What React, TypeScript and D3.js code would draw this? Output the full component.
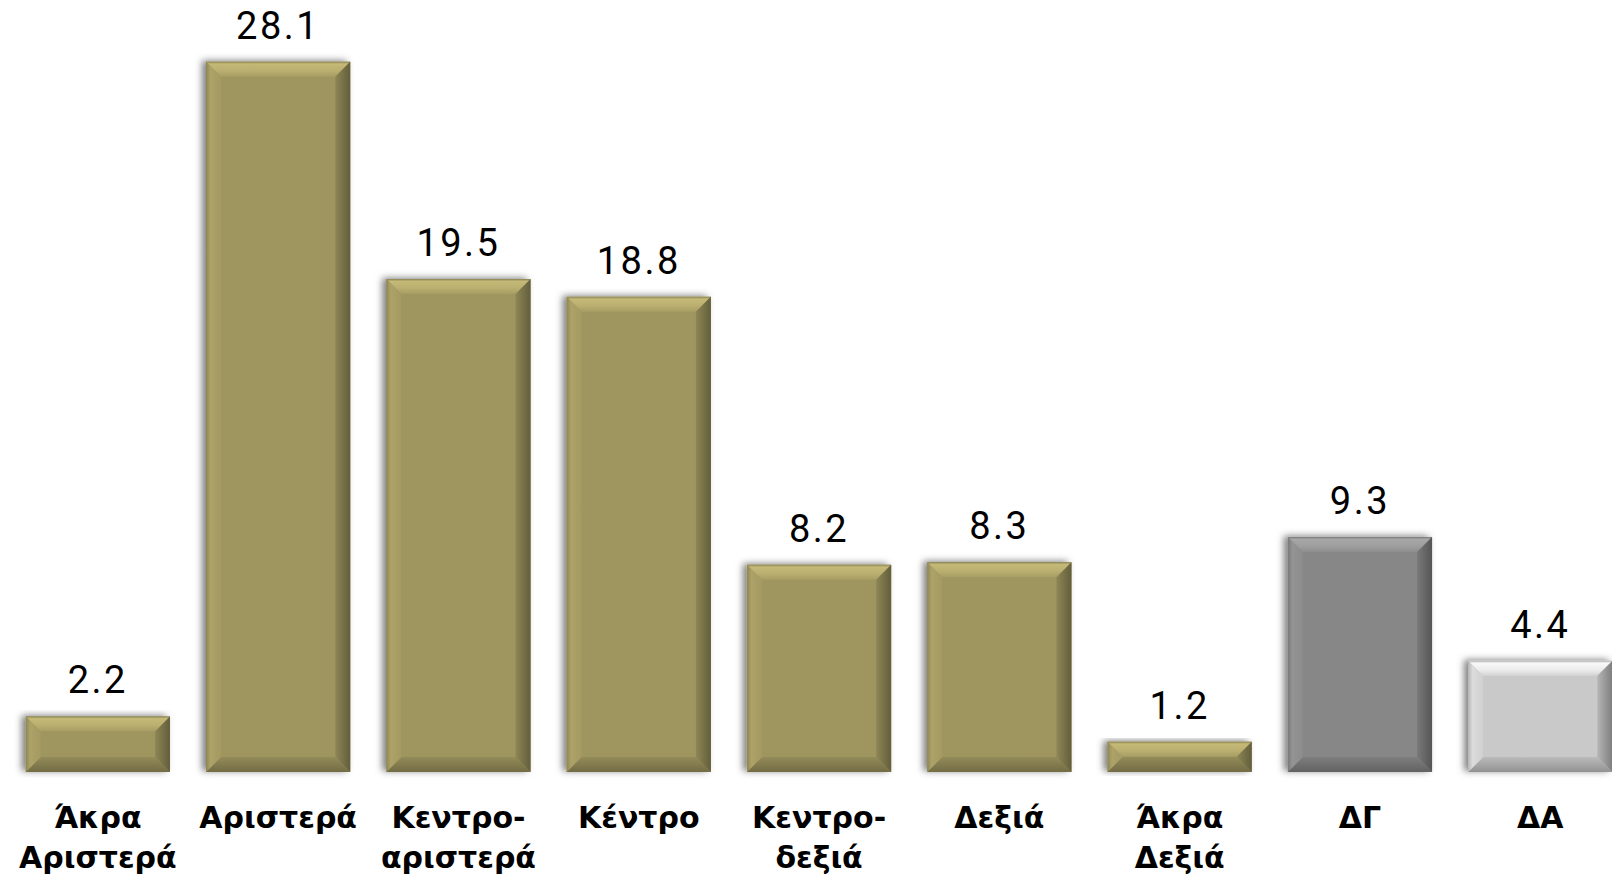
import React from "react";
import * as d3 from "d3";

// chart data
const categories = [
  "Άκρα\nΑριστερά",
  "Αριστερά",
  "Κεντρο-\nαριστερά",
  "Κέντρο",
  "Κεντρο-\nδεξιά",
  "Δεξιά",
  "Άκρα\nΔεξιά",
  "ΔΓ",
  "ΔΑ",
];
const values = [2.2, 28.1, 19.5, 18.8, 8.2, 8.3, 1.2, 9.3, 4.4];
const barColors = ["#9e955f", "#9e955f", "#9e955f", "#9e955f", "#9e955f", "#9e955f", "#9e955f", "#878787", "#c9c9c9"];

const width = 1612, height = 883;
const baseline = 772;

const shade = (c: string, k: number) => {
  const col = d3.color(c)!;
  return (k >= 0 ? col.brighter(k) : col.darker(-k)).formatHex();
};

export default function App() {
  const x = d3.scaleBand<string>()
    .domain(categories)
    .range([7.7, 7.7 + 180.3 * 9])
    .paddingInner(0.2)
    .paddingOuter(0.1);

  const y = d3.scaleLinear()
    .domain([0, 30])
    .range([baseline, baseline - 30 * 25.28]);

  const bw = x.bandwidth();

  return (
    <svg width={width} height={height}
      style={{ position: "absolute", left: 0, top: 0, background: "#fff" }}>
      <defs>
        <filter id="shadow" x="-10%" y="-10%" width="120%" height="120%">
          <feDropShadow dx={-4} dy={-1} stdDeviation={3.5} floodColor="#000" floodOpacity={0.5} />
        </filter>
        {barColors.map((c, i) => (
          <g key={i}>
            <linearGradient id={"top" + i} x1="0" y1="0" x2="0" y2="1">
              <stop offset="0" stopColor={shade(c, -0.4)} />
              <stop offset="0.15" stopColor={shade(c, 0.6)} />
              <stop offset="0.6" stopColor={shade(c, 0.45)} />
              <stop offset="1" stopColor={shade(c, 0.15)} />
            </linearGradient>
            <linearGradient id={"right" + i} x1="0" y1="0" x2="1" y2="0">
              <stop offset="0" stopColor={shade(c, -0.3)} />
              <stop offset="1" stopColor={shade(c, -1.3)} />
            </linearGradient>
            <linearGradient id={"bottom" + i} x1="0" y1="0" x2="0" y2="1">
              <stop offset="0" stopColor={shade(c, -0.2)} />
              <stop offset="1" stopColor={shade(c, -0.9)} />
            </linearGradient>
            <linearGradient id={"left" + i} x1="0" y1="0" x2="1" y2="0">
              <stop offset="0" stopColor={shade(c, -0.3)} />
              <stop offset="0.3" stopColor={shade(c, 0.25)} />
              <stop offset="1" stopColor={shade(c, 0.1)} />
            </linearGradient>
          </g>
        ))}
      </defs>

      {values.map((v, i) => {
        const bx = x(categories[i])!;
        const by = y(v);
        const h = baseline - by;
        const b = Math.min(15, h / 2);
        const c = barColors[i];
        const pts = (arr: number[][]) => arr.map(p => p.join(",")).join(" ");
        return (
          <g key={i}>
            <rect x={bx} y={by} width={bw} height={h} fill={c} filter="url(#shadow)" />
            <polygon fill={`url(#top${i})`}
              points={pts([[bx, by], [bx + bw, by], [bx + bw - b, by + b], [bx + b, by + b]])} />
            <polygon fill={`url(#bottom${i})`}
              points={pts([[bx, by + h], [bx + bw, by + h], [bx + bw - b, by + h - b], [bx + b, by + h - b]])} />
            <polygon fill={`url(#left${i})`}
              points={pts([[bx, by], [bx + b, by + b], [bx + b, by + h - b], [bx, by + h]])} />
            <polygon fill={`url(#right${i})`}
              points={pts([[bx + bw, by], [bx + bw - b, by + b], [bx + bw - b, by + h - b], [bx + bw, by + h]])} />
            <text x={bx + bw / 2} y={by - 23} textAnchor="middle"
              fontFamily="Roboto, sans-serif" fontSize={38} letterSpacing={2.5} fill="#000">
              {v.toFixed(1)}
            </text>
          </g>
        );
      })}

      {categories.map((cat, i) => (
        <text key={cat} x={x(cat)! + bw / 2} textAnchor="middle"
          fontFamily="'DejaVu Sans', sans-serif" fontWeight="bold" fontSize={30} fill="#000">
          {cat.split("\n").map((line, j) => (
            <tspan key={j} x={x(cat)! + bw / 2} y={828 + j * 40}>{line}</tspan>
          ))}
        </text>
      ))}
    </svg>
  );
}
